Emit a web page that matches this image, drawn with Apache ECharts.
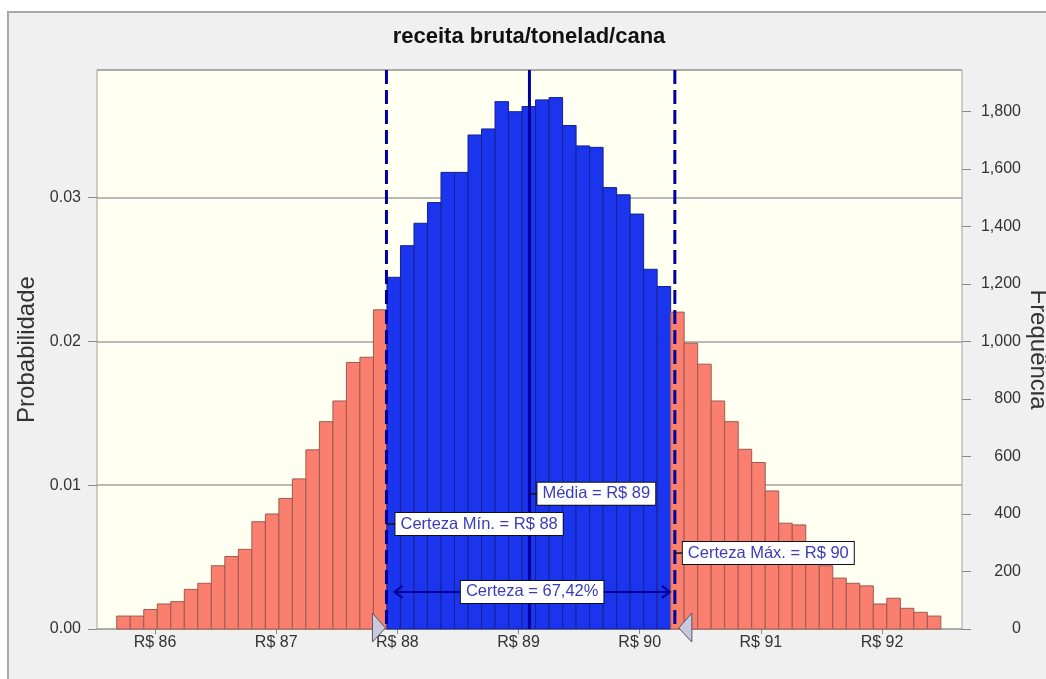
<!DOCTYPE html>
<html>
<head>
<meta charset="utf-8">
<script src="https://cdn.jsdelivr.net/npm/echarts@6/dist/echarts.min.js"></script>
<style>
    html, body { margin: 0; padding: 0; background: #ffffff; }
    #chart { width: 1046px; height: 679px; }
</style>
</head>
<body>
<div id="chart"></div>
<script>
// histogram bins (R$ per tonne), 50,000 trials
const binStart = 85.684
const binWidth = 0.1115
const trials = 50000
const lowerTail = [45, 45, 68, 87, 95, 138, 159, 220, 252, 277, 373, 400, 454, 522, 623, 721, 793, 927, 945, 1110]
const certaintyBand = [1223, 1333, 1411, 1483, 1588, 1588, 1718, 1739, 1834, 1799, 1817, 1840, 1848, 1751, 1680, 1675, 1535, 1510, 1443, 1251, 1191]
const upperTail = [1102, 994, 921, 793, 721, 625, 579, 480, 368, 362, 280, 220, 177, 159, 150, 87, 107, 72, 58, 45]

const xTicks = [86, 87, 88, 89, 90, 91, 92]
const certMin = 87.91
const certMax = 90.29
const meanValue = 89.09
const certaintyText = 'Certeza = 67,42%'
const meanText = 'Média = R$ 89'
const minText = 'Certeza Mín. = R$ 88'
const maxText = 'Certeza Máx. = R$ 90'

const xMin = 85.521
const xMax = 92.66
const freqMax = 1944

const FONT = "'Liberation Sans', Arial, sans-serif"

const freqs = [...lowerTail, ...certaintyBand, ...upperTail]
const bins = freqs.map((f, i) => [binStart + i * binWidth, binStart + (i + 1) * binWidth, f])

function renderBar(params, api) {
    const x0 = api.value(0)
    const x1 = api.value(1)
    const p0 = api.coord([x0, api.value(2)])
    const p1 = api.coord([x1, 0])
    const mid = (x0 + x1) / 2
    const inside = mid > certMin && mid < certMax
    return {
        type: 'rect',
        shape: { x: p0[0], y: p0[1], width: p1[0] - p0[0], height: p1[1] - p0[1] },
        style: {
            fill: inside ? '#1b34ee' : '#fa7f6f',
            stroke: inside ? '#16238c' : '#9c5a50',
            lineWidth: 1
        }
    }
}

function boxLabel(text, x, y, align) {
    return {
        type: 'text',
        x, y,
        style: {
            text,
            fill: '#3b3bb8',
            fontSize: 16.5,
            fontFamily: FONT,
            align: align || 'left',
            verticalAlign: 'middle',
            backgroundColor: '#ffffff',
            borderColor: '#111111',
            borderWidth: 1,
            padding: [3, 5, 2, 5]
        },
        z2: 10
    }
}

function renderMarks(params, api) {
    const top = api.coord([xMin, freqMax])[1]
    const bottom = api.coord([xMin, 0])[1]
    const lx = api.coord([certMin, 0])[0]
    const rx = api.coord([certMax, 0])[0]
    const mx = api.coord([meanValue, 0])[0]
    const yMean = api.coord([xMin, 470])[1]
    const yMinL = api.coord([xMin, 365])[1]
    const yMaxL = api.coord([xMin, 264])[1]
    const yArrow = api.coord([xMin, 129])[1]
    const navy = '#00009c'
    const dashStyle = { stroke: navy, lineWidth: 3, lineDash: [14, 6] }
    const ax0 = lx + 8
    const ax1 = rx - 5
    return {
        type: 'group',
        children: [
            { type: 'line', shape: { x1: lx, y1: top, x2: lx, y2: bottom }, style: dashStyle },
            { type: 'line', shape: { x1: rx, y1: top, x2: rx, y2: bottom }, style: dashStyle },
            { type: 'line', shape: { x1: mx, y1: top, x2: mx, y2: bottom }, style: { stroke: navy, lineWidth: 3 } },
            // certainty arrow
            { type: 'line', shape: { x1: ax0, y1: yArrow, x2: ax1, y2: yArrow }, style: { stroke: navy, lineWidth: 2 } },
            { type: 'polyline', shape: { points: [[ax0 + 8, yArrow - 6], [ax0, yArrow], [ax0 + 8, yArrow + 6]] }, style: { stroke: navy, lineWidth: 2, fill: null } },
            { type: 'polyline', shape: { points: [[ax1 - 8, yArrow - 6], [ax1, yArrow], [ax1 - 8, yArrow + 6]] }, style: { stroke: navy, lineWidth: 2, fill: null } },
            // leaders
            { type: 'line', shape: { x1: mx, y1: yMean, x2: mx + 8, y2: yMean }, style: { stroke: '#111', lineWidth: 1.5 } },
            { type: 'line', shape: { x1: lx, y1: yMinL, x2: lx + 9, y2: yMinL }, style: { stroke: '#111', lineWidth: 1.5 } },
            { type: 'line', shape: { x1: rx, y1: yMaxL, x2: rx + 8, y2: yMaxL }, style: { stroke: '#111', lineWidth: 1.5 } },
            // sliders
            { type: 'polygon', shape: { points: [[lx - 14, bottom - 16], [lx - 1, bottom - 1], [lx - 14, bottom + 13]] }, style: { fill: '#c9c9dd', stroke: '#555566', lineWidth: 1 } },
            { type: 'polygon', shape: { points: [[rx + 17, bottom - 16], [rx + 4, bottom - 1], [rx + 17, bottom + 13]] }, style: { fill: '#c9c9dd', stroke: '#555566', lineWidth: 1 } },
            boxLabel(meanText, mx + 8, yMean),
            boxLabel(minText, lx + 9, yMinL),
            boxLabel(maxText, rx + 8, yMaxL),
            boxLabel(certaintyText, (ax0 + ax1) / 2, yArrow, 'center')
        ]
    }
}

const chart = echarts.init(document.getElementById('chart'))
chart.setOption({
    animation: false,
    backgroundColor: '#ffffff',
    graphic: [
        { type: 'rect', shape: { x: 8, y: 12, width: 1100, height: 700 }, style: { fill: '#f0f0f0', stroke: '#a8a8a8', lineWidth: 2 }, z: -10 },
        { type: 'text', x: 529, y: 37, style: { text: 'receita bruta/tonelad/cana', fill: '#111', fontSize: 22, fontWeight: 'bold', fontFamily: FONT, align: 'center', verticalAlign: 'middle' } }
    ],
    grid: {
        left: 97, right: 84, top: 70, bottom: 50,
        show: true, backgroundColor: '#fffff2', borderColor: '#a0a0a0', borderWidth: 1,
        outerBoundsMode: 'none'
    },
    xAxis: {
        type: 'value', min: xMin, max: xMax,
        axisLine: { show: false },
        splitLine: { show: false },
        axisTick: { show: true, customValues: xTicks, length: 5, lineStyle: { color: '#888' } },
        axisLabel: {
            customValues: xTicks, margin: 6,
            formatter: v => 'R$ ' + v,
            color: '#333', fontSize: 16, fontFamily: FONT
        }
    },
    yAxis: [
        {
            type: 'value', position: 'left', min: 0, max: freqMax / trials, interval: 0.01,
            name: 'Probabilidade', nameLocation: 'middle', nameGap: 58,
            nameTextStyle: { color: '#333', fontSize: 24, fontFamily: FONT },
            axisLine: { show: false },
            axisTick: { show: true, length: 9, lineStyle: { color: '#888' } },
            splitLine: { show: true, lineStyle: { color: '#a0a0a0', width: 1.5 } },
            axisLabel: {
                margin: 16, showMaxLabel: false,
                formatter: v => v.toFixed(2),
                color: '#333', fontSize: 16, fontFamily: FONT
            }
        },
        {
            type: 'value', position: 'right', min: 0, max: freqMax, interval: 200,
            name: 'Frequência', nameLocation: 'middle', nameGap: 64, nameRotate: -90,
            nameMoveOverlap: false,
            nameTextStyle: { color: '#333', fontSize: 24, fontFamily: FONT },
            axisLine: { show: false },
            axisTick: { show: true, length: 9, lineStyle: { color: '#888' } },
            splitLine: { show: false },
            axisLabel: {
                margin: 59, align: 'right', showMaxLabel: false,
                formatter: v => v.toLocaleString('en-US'),
                color: '#333', fontSize: 16, fontFamily: FONT
            }
        }
    ],
    series: [
        {
            type: 'custom', name: 'histograma', xAxisIndex: 0, yAxisIndex: 1,
            renderItem: renderBar,
            encode: { x: [0, 1], y: 2 },
            data: bins, z: 2
        },
        {
            type: 'custom', name: 'marcas', xAxisIndex: 0, yAxisIndex: 1,
            renderItem: renderMarks,
            data: [[certMin, 0]], z: 5, silent: true
        }
    ]
})
</script>
</body>
</html>
